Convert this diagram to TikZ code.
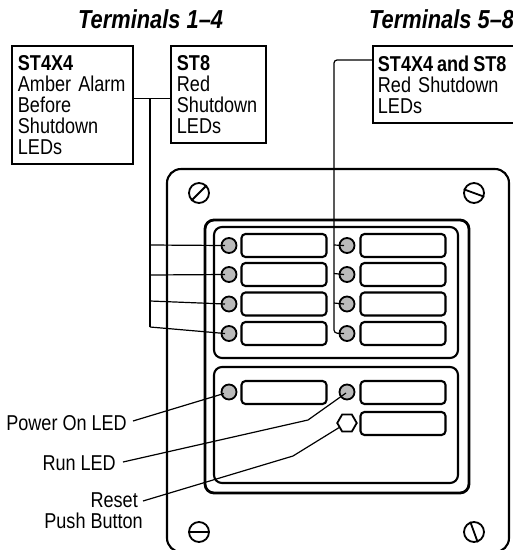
\documentclass[tikz,border=0pt]{standalone}
\usepackage{fontspec}
\setmainfont[FakeStretch=0.84]{Liberation Sans}
\usetikzlibrary{shapes.geometric,calc}
\tikzset{
  txt/.style={font=\fontsize{21.5}{21}\selectfont, inner sep=0pt, text=black},
  head/.style={font=\fontsize{26}{26}\selectfont\bfseries\itshape, inner sep=0pt, anchor=base west},
  box/.style={draw, line width=1.9pt, anchor=north west, align=left, inner sep=0pt, font=\fontsize{21.5}{21}\selectfont},
  led/.style={circle, draw, line width=1.8pt, fill=black!27, minimum size=15pt, inner sep=0pt},
  pb/.style={regular polygon, regular polygon sides=6, draw, line width=1.8pt, fill=white, minimum size=19.5pt, inner sep=0pt},
  lamp/.style={draw, line width=2.1pt, rounded corners=4pt, minimum width=85pt, minimum height=23pt, inner sep=0pt},
  screw/.style={circle, draw, line width=1.8pt, minimum size=20pt, inner sep=0pt},
  wire/.style={line width=1.2pt},
  frameA/.style={draw, line width=2.1pt, rounded corners=14pt},
  frameB/.style={draw, line width=2.8pt, rounded corners=9pt},
  frameC/.style={draw, line width=2.1pt, rounded corners=8pt},
}
\begin{document}
\begin{tikzpicture}[x=1pt,y=-1pt]
\clip (0,0) rectangle (513,550);
% panel
\draw[frameA] (167,552) -- (167,169) -- (509,169) -- (509,552) -- cycle;
\draw[frameB] (205,220) rectangle (469,493);
\draw[frameC] (214,227) rectangle (458,358);
\draw[frameC] (214,367) rectangle (458,483);
% headings
\node[head] (h1) at (78,28) {Terminals 1–4};
\node[head] (h2) at (369,28) {Terminals 5–8};
% boxes
\node[box, minimum width=121pt, minimum height=118pt, text width=109pt] (st4) at (11,45)
  {\textbf{ST4X4}\\Amber Alarm\\Before\\Shutdown\\LEDs};
\node[box, minimum width=95pt, minimum height=97pt, text width=83pt] (st8) at (170,45)
  {\textbf{ST8}\\Red\\Shutdown\\LEDs};
\node[box, minimum width=160pt, minimum height=77pt, text width=150pt] (st48) at (372,45)
  {{\bfseries\spaceskip=4pt ST4X4 and ST8}\\Red Shutdown\\LEDs};
% lamps
\foreach \n/\y in {1/245.5,2/274.5,3/304,4/333.5}{
  \node[lamp] (la\n) at (284,\y) {};
  \node[lamp] (ra\n) at (403,\y) {};
  \node[led] (ll\n) at (229,\y) {};
  \node[led] (rl\n) at (347,\y) {};
}
\node[lamp] (lp) at (284,392.5) {};
\node[lamp] (rp) at (403,392.5) {};
\node[lamp] (rr) at (403,423.5) {};
\node[led] (pw) at (229,392) {};
\node[led] (rn) at (347,392) {};
\node[pb] (rs) at (347,423) {};
% screws
\node[screw] (s1) at (199,193) {};
\node[screw] (s2) at (474,193) {};
\node[screw] (s3) at (199,532) {};
\node[screw] (s4) at (474,532) {};
\draw[line width=1.8pt] (s1.225) -- (s1.45);
\draw[line width=1.8pt] (s2.160) -- (s2.340);
\draw[line width=1.8pt] (s3.west) -- (s3.east);
\draw[line width=1.8pt] (s4.110) -- (s4.290);
% wires left
\coordinate (j) at (150,98.5);
\coordinate (b1) at (150,245);
\coordinate (b2) at (150,275);
\coordinate (b3) at (150,301);
\coordinate (b4) at (150,327);
\draw[wire] (st4.east |- j) -- (st8.west |- j);
\draw[wire] (j) -- (b4);
\draw[wire] (b1) -- ($(ll1.center)+(-4,0)$);
\draw[wire] (b2) -- ($(ll2.center)+(-4,0)$);
\draw[wire] (b3) -- ($(ll3.center)+(-4,0)$);
\draw[wire] (b4) -- ($(ll4.center)+(-4,0)$);
% wires right
\coordinate (k) at (334,60);
\coordinate (c1) at (334,245);
\coordinate (c2) at (334,273.5);
\coordinate (c3) at (334,303);
\coordinate (c4) at (334,333);
\draw[wire, rounded corners=3pt] (st48.west |- k) -- (k) -- (c4) -- ($(rl4.center)+(-3,0)$);
\draw[wire] (c1) -- ($(rl1.center)+(-3,0)$);
\draw[wire] (c2) -- ($(rl2.center)+(-3,0)$);
\draw[wire] (c3) -- ($(rl3.center)+(-3,0)$);
% labels
\node[txt, anchor=base east] (lpw) at (127,430) {Power On LED};
\node[txt, anchor=base east] (lrn) at (116,470) {Run LED};
\node[txt, anchor=base east] (lrs) at (138,507) {Reset};
\node[txt, anchor=base east] (lpb) at (143,528) {Push Button};
\coordinate (e1) at (133,421);
\coordinate (e2) at (123,462);
\coordinate (m2) at (308,420);
\coordinate (e3) at (143,501);
\coordinate (m3) at (293,456);
\draw[wire] (e1) -- ($(pw.center)+(-5,1.5)$);
\draw[wire] (e2) -- (m2) -- ($(rn.center)+(-1,1)$);
\draw[wire] (e3) -- (m3) -- (rs.210);
\end{tikzpicture}
\end{document}
